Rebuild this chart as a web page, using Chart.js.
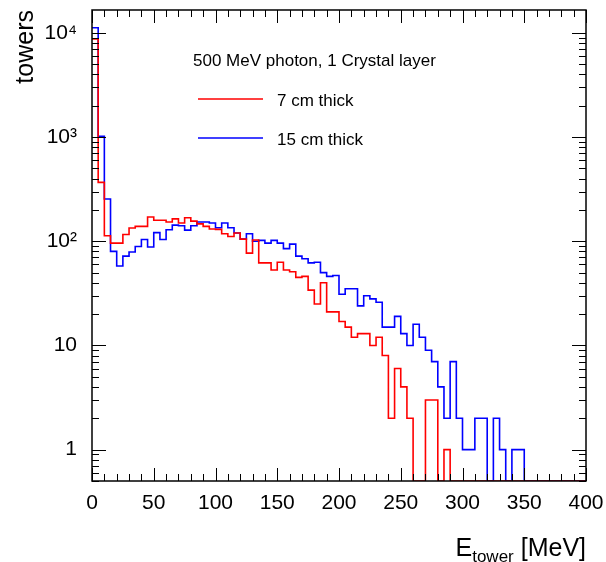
<!DOCTYPE html>
<html>
<head>
<meta charset="utf-8">
<script src="https://cdn.jsdelivr.net/npm/chart.js@4/dist/chart.umd.min.js"></script>
<style>
  body { margin: 0; background: #fff; }
</style>
</head>
<body>
<canvas id="towerChart" width="606" height="562"></canvas>
<script>
// 80 bins of 5 MeV from 0 to 400
var binWidth = 5;
var binStart = 0;

var thin = [8750, 368, 113, 96, 96, 116, 134, 139, 139, 171,
  159, 159, 153, 164, 150, 168, 156, 147, 139, 131,
  130, 118, 111, 120, 105, 77, 103, 62, 62, 53,
  63, 53, 51, 45, 46, 34, 25, 40, 21, 21,
  17, 15, 12, 13, 13, 10, 12, 8, 2, 6,
  4, 2, 0, 0, 3, 3, 0, 1, 0, 0,
  0, 0, 0, 0, 0, 0, 0, 0, 0, 0,
  0, 0, 0, 0, 0, 0, 0, 0, 0, 0];

var thick = [11200, 1020, 255, 80, 58, 72, 79, 89, 104, 88,
  121, 104, 129, 143, 141, 128, 141, 153, 153, 150,
  135, 150, 135, 120, 105, 118, 100, 102, 96, 102,
  96, 85, 94, 72, 68, 62, 63, 50, 46, 47,
  31, 35, 35, 24, 30, 28, 26, 15, 15, 19,
  13, 10, 16, 12, 9, 7, 4, 2, 7, 2,
  1, 1, 2, 2, 0, 2, 1, 0, 1, 1,
  0, 0, 0, 0, 0, 0, 0, 0, 0, 0];

var seriesNames = ["7 cm thick", "15 cm thick"];
var seriesColors = ["#ff0000", "#0000ff"];
var header = "500 MeV photon, 1 Crystal layer";

var yTickValues = [1, 10, 100, 1000, 10000];
var yTickLabels = ["1", "10", "10\u00b2", "10\u00b3", "10\u2074"];

var yMin = 0.5;
var yMax = 16600;
var fontName = "'Liberation Sans', Arial, Helvetica, sans-serif";

// histogram outline: one point per left bin edge, plus the last right edge
function steps(counts) {
  var pts = counts.map(function (c, i) {
    return { x: binStart + i * binWidth, y: Math.max(c, yMin) };
  });
  pts.push({ x: binStart + counts.length * binWidth, y: Math.max(counts[counts.length - 1], yMin) });
  return pts;
}

// ROOT-like frame with inward ticks on all four sides
var frameTicks = {
  id: "frameTicks",
  afterDatasetsDraw: function (chart) {
    var ctx = chart.ctx, a = chart.chartArea;
    var xs = chart.scales.x, ys = chart.scales.y;
    ctx.save();
    ctx.strokeStyle = "#000";
    ctx.lineWidth = 1;
    ctx.beginPath();
    var xt = xs.ticks.map(function (t) { return t.value; });
    function xTick(v, len) {
      var p = Math.round(xs.getPixelForValue(v)) + 0.5;
      ctx.moveTo(p, a.bottom); ctx.lineTo(p, a.bottom - len);
      ctx.moveTo(p, a.top); ctx.lineTo(p, a.top + len);
    }
    for (var i = 0; i < xt.length; i++) {
      xTick(xt[i], 13);
      if (i < xt.length - 1) {
        for (var k = 1; k < 5; k++) xTick(xt[i] + (xt[i + 1] - xt[i]) * k / 5, 7);
      }
    }
    ys.ticks.forEach(function (t) {
      var v = t.value;
      var e = Math.floor(Math.log10(v) + 1e-9);
      var m = v / Math.pow(10, e);
      if (Math.abs(m - Math.round(m)) > 1e-6) return;
      if (v <= yMin * 0.999 || v > yMax) return;
      var len = Math.round(m) === 1 ? 14 : 7;
      var p = Math.round(ys.getPixelForValue(v)) + 0.5;
      ctx.moveTo(a.left, p); ctx.lineTo(a.left + len, p);
      ctx.moveTo(a.right, p); ctx.lineTo(a.right - len, p);
    });
    ctx.stroke();
    ctx.lineWidth = 1.5;
    ctx.strokeRect(a.left, a.top, a.right - a.left, a.bottom - a.top);
    ctx.restore();
  }
};

// header text, legend entries and the x title with subscript
var annotations = {
  id: "annotations",
  afterDraw: function (chart) {
    var ctx = chart.ctx;
    ctx.save();
    ctx.fillStyle = "#000";
    ctx.textBaseline = "alphabetic";
    ctx.textAlign = "left";
    ctx.font = "17px " + fontName;
    ctx.fillText(header, 193, 66);
    var rows = [{ y: 99, base: 106 }, { y: 138, base: 145 }];
    chart.data.datasets.forEach(function (ds, i) {
      ctx.strokeStyle = ds.borderColor;
      ctx.lineWidth = 1.6;
      ctx.beginPath();
      ctx.moveTo(198, rows[i].y);
      ctx.lineTo(263, rows[i].y);
      ctx.stroke();
      ctx.fillStyle = "#000";
      ctx.fillText(ds.label, 277, rows[i].base);
    });

    var right = chart.chartArea.right;
    var base = 556;
    ctx.font = "25px " + fontName;
    var tail = " [MeV]";
    var wTail = ctx.measureText(tail).width;
    var wE = ctx.measureText("E").width;
    ctx.font = "17px " + fontName;
    var wSub = ctx.measureText("tower").width;
    var x0 = right - wTail - wSub - wE;
    ctx.font = "25px " + fontName;
    ctx.fillText("E", x0, base);
    ctx.fillText(tail, x0 + wE + wSub, base);
    ctx.font = "17px " + fontName;
    ctx.fillText("tower", x0 + wE, base + 6);
    ctx.restore();
  }
};

new Chart("towerChart", {
  type: "line",
  data: {
    datasets: [
      {
        label: seriesNames[0],
        data: steps(thin),
        borderColor: seriesColors[0],
        borderWidth: 1.6,
        pointRadius: 0,
        stepped: true,
        fill: false
      },
      {
        label: seriesNames[1],
        data: steps(thick),
        borderColor: seriesColors[1],
        borderWidth: 1.6,
        pointRadius: 0,
        stepped: true,
        fill: false
      }
    ]
  },
  options: {
    responsive: false,
    animation: false,
    layout: { padding: { top: 10, right: 20, left: 0, bottom: 0 } },
    plugins: {
      legend: { display: false },
      tooltip: { enabled: false }
    },
    scales: {
      x: {
        type: "linear",
        min: 0,
        max: 400,
        grid: { display: false },
        border: { display: false },
        ticks: {
          stepSize: 50,
          padding: 2,
          maxRotation: 0,
          color: "#000",
          font: { family: fontName, size: 21 }
        },
        afterFit: function (scale) {
          scale.height = 81;
          scale.paddingLeft = 0;
          scale.paddingRight = 0;
        }
      },
      y: {
        type: "logarithmic",
        min: yMin,
        max: yMax,
        grid: { display: false },
        border: { display: false },
        ticks: {
          autoSkip: false,
          padding: 7,
          color: "#000",
          font: { family: fontName, size: 21 },
          callback: function (v) {
            var idx = yTickValues.findIndex(function (t) { return Math.abs(t - v) < 1e-6 * t; });
            return idx >= 0 ? yTickLabels[idx] : "";
          }
        },
        title: {
          display: true,
          text: "towers",
          align: "end",
          color: "#000",
          padding: { top: 11, bottom: 0 },
          font: { family: fontName, size: 25 }
        },
        afterFit: function (scale) {
          scale.width = 92;
          scale.paddingTop = 0;
          scale.paddingBottom = 0;
        }
      }
    }
  },
  plugins: [frameTicks, annotations]
});
</script>
</body>
</html>
